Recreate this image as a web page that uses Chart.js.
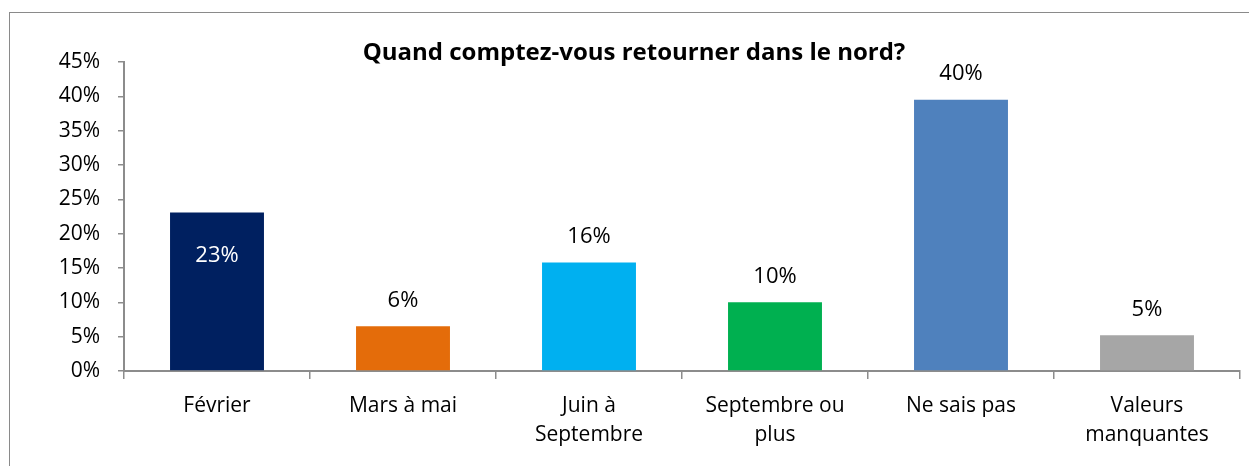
<!DOCTYPE html>
<html>
<head>
<meta charset="utf-8">
<script src="https://cdn.jsdelivr.net/npm/chart.js@4/dist/chart.umd.min.js"></script>
<style>
  html, body { margin: 0; padding: 0; background: #fff; }
  #wrap { width: 1249px; height: 466px; position: relative; }
</style>
</head>
<body>
<div id="wrap"><canvas id="chart" width="1249" height="466"></canvas></div>
<script>
// catégories et valeurs (en %)
const categories = ['Février', 'Mars à mai', ['Juin à', 'Septembre'], ['Septembre ou', 'plus'], 'Ne sais pas', ['Valeurs', 'manquantes']];
const values = [23.1, 6.5, 15.8, 10.0, 39.5, 5.2];
const valueLabels = ['23%', '6%', '16%', '10%', '40%', '5%'];
const barColors = ['#002060', '#E46C0A', '#00B0F0', '#00B050', '#4F81BD', '#A6A6A6'];
const yTicks = [0, 5, 10, 15, 20, 25, 30, 35, 40, 45];
const titleText = 'Quand comptez-vous retourner dans le nord?';

const FONT = '"Open Sans", "DejaVu Sans", sans-serif';
const axisColor = '#8c8c8c';

// cadre + titre + étiquettes de valeurs
const decor = {
    id: 'decor',
    beforeDraw(chart) {
        const ctx = chart.ctx;
        ctx.save();
        ctx.strokeStyle = '#8a8a8a';
        ctx.lineWidth = 1;
        ctx.strokeRect(9.5, 12.5, 1400, 600);
        ctx.restore();
    },
    afterDatasetsDraw(chart) {
        const ctx = chart.ctx;
        ctx.save();
        ctx.font = 'bold 24px ' + FONT;
        ctx.fillStyle = '#000';
        ctx.textAlign = 'center';
        ctx.textBaseline = 'middle';
        ctx.fillText(titleText, 634, chart.chartArea.top - 9);

        ctx.font = '22px ' + FONT;
        const meta = chart.getDatasetMeta(0);
        meta.data.forEach((bar, i) => {
            if (i === 0) {
                ctx.fillStyle = '#fff';
                ctx.fillText(valueLabels[i], bar.x, bar.y + 43);
            } else {
                ctx.fillStyle = '#000';
                ctx.fillText(valueLabels[i], bar.x, bar.y - 26);
            }
        });
        ctx.restore();
    }
};

new Chart(document.getElementById('chart').getContext('2d'), {
    type: 'bar',
    data: {
        labels: categories,
        datasets: [{
            data: values,
            backgroundColor: barColors,
            barPercentage: 0.505,
            categoryPercentage: 1
        }]
    },
    options: {
        responsive: false,
        animation: false,
        layout: { padding: { top: 62, right: 9, left: 0, bottom: 0 } },
        plugins: {
            legend: { display: false },
            title: { display: false },
            tooltip: { enabled: false }
        },
        scales: {
            x: {
                afterFit(scale) { scale.height = 95; },
                grid: {
                    offset: true,
                    drawOnChartArea: false,
                    tickLength: 8,
                    color: axisColor,
                    lineWidth: 1.5
                },
                border: { color: axisColor, width: 2 },
                ticks: {
                    color: '#000',
                    padding: 12,
                    maxRotation: 0,
                    autoSkip: false,
                    font: { family: FONT, size: 21, lineHeight: 1.4 }
                }
            },
            y: {
                min: 0,
                max: 45,
                afterFit(scale) { scale.width = 124; },
                afterBuildTicks(scale) { scale.ticks = yTicks.map(v => ({ value: v })); },
                grid: {
                    drawOnChartArea: false,
                    tickLength: 6,
                    color: axisColor,
                    lineWidth: 1.5
                },
                border: { color: axisColor, width: 2 },
                ticks: {
                    color: '#000',
                    padding: 18,
                    font: { family: FONT, size: 21 },
                    callback: v => v + '%'
                }
            }
        }
    },
    plugins: [decor]
});
</script>
</body>
</html>
